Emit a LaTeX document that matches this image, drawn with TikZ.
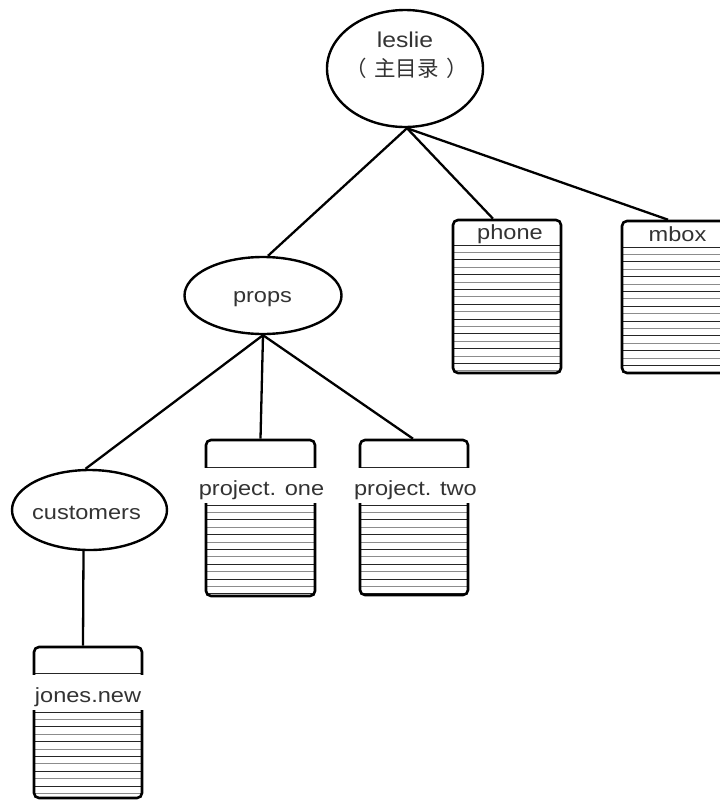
\documentclass[tikz,border=0pt]{standalone}
\usepackage{fontspec}
\setmainfont{Liberation Sans}
\newfontfamily\labfont[FakeStretch=1.15]{Liberation Sans}
\newfontfamily\cjk{Noto Sans CJK SC}
\usetikzlibrary{shapes.geometric}

% ruled lines inside a file box: left, right, first y, bottom y
\newcommand\filerules[4]{%
  \begin{scope}
    \clip (#1,#3-1) rectangle (#2,#4);
    \foreach \k in {0,...,22} {
      \pgfmathsetmacro\yy{#3+7.4*\k}
      \pgfmathparse{int(mod(\k,2))}
      \ifnum\pgfmathresult=0
        \draw[ruleA] (#1,\yy) -- (#2,\yy);
      \else
        \draw[ruleB] (#1,\yy) -- (#2,\yy);
      \fi
    }
  \end{scope}}

% full-width character cells
\newcommand\cjkcell[1]{\makebox[21.7pt][c]{#1}}
\newcommand\cjkopen[1]{\makebox[21.7pt][c]{\kern-14pt#1}}
\newcommand\cjkclose[1]{\makebox[21.7pt][c]{#1\kern-14pt}}

\tikzset{
  edge/.style={line width=2.3pt},
  dirnode/.style={ellipse, draw, line width=2.4pt, inner sep=0pt},
  filebox/.style={draw, line width=2.6pt, rounded corners=5pt, inner sep=0pt},
  ruleA/.style={line width=0.7pt, black!85},
  ruleB/.style={line width=0.7pt, black!45},
  lab/.style={font=\labfont\fontsize{20.5}{24}\selectfont, text=black!80, inner sep=0pt, anchor=base},
  cjklab/.style={font=\cjk\fontsize{21.5}{25}\selectfont, text=black!80, inner sep=0pt, anchor=base},
  band/.style={font=\labfont\fontsize{20.5}{24}\selectfont, text=black!80, fill=white,
    inner sep=0pt, minimum height=35pt, text height=24pt, text depth=5pt},
}

\begin{document}
\begin{tikzpicture}[x=1pt, y=-1pt]
  \useasboundingbox (0,0) rectangle (720,801);
  \fill[white] (0,0) rectangle (720,801);
  \clip (0,0) rectangle (720,801);

  % ruled interiors of the files
  \filerules{453}{561}{245}{373}
  \filerules{622}{730}{247}{373}
  \draw[ruleA] (206,467) -- (315,467);
  \filerules{206}{315}{505}{596}
  \draw[ruleA] (360,467) -- (468,467);
  \filerules{360}{468}{505}{595}
  \draw[ruleA] (34,673) -- (142,673);
  \filerules{34}{142}{712}{798}

  % file outlines
  \node[filebox, minimum width=108pt, minimum height=153pt] (phone) at (507,296.5) {};
  \node[filebox, minimum width=108pt, minimum height=152pt] (mbox) at (676,297) {};
  \node[filebox, minimum width=109pt, minimum height=156pt] (pone) at (260.5,518) {};
  \node[filebox, minimum width=108pt, minimum height=155pt] (ptwo) at (414,517.5) {};
  \node[filebox, minimum width=108pt, minimum height=151pt] (jones) at (88,722.5) {};

  % file names
  \node[lab] (phone name) at (510,239) {phone};
  \node[lab] (mbox name) at (677.5,241) {mbox};
  \node[band, minimum width=116pt] (pone name) at (261.5,485.5) {project. one};
  \node[band, minimum width=116pt] (ptwo name) at (415.5,485.5) {project. two};
  \node[band, minimum width=116pt] (jones name) at (88,692.5) {jones.new};

  % directories
  \node[dirnode, minimum width=156pt, minimum height=117pt] (leslie) at (405,68.5) {};
  \node[dirnode, minimum width=157pt, minimum height=77pt] (props) at (263,295.5) {};
  \node[dirnode, minimum width=155pt, minimum height=80pt] (customers) at (89.5,510) {};

  \node[lab, font=\labfont\fontsize{21.5}{25}\selectfont] (leslie name) at (405,47) {leslie};
  \node[cjklab] (leslie note) at (406.5,76.5)
    {\cjkopen{（}\cjkcell{主}\cjkcell{目}\cjkcell{录}\cjkclose{）}};
  \node[lab] (props name) at (262.5,302) {props};
  \node[lab] (customers name) at (86.5,519) {customers};

  % tree edges
  \draw[edge] ([xshift=2pt]leslie.south) -- ([xshift=-14pt]phone.north);
  \draw[edge] ([xshift=2pt]leslie.south) -- ([xshift=-8pt]mbox.north);
  \draw[edge] ([xshift=2pt]leslie.south) -- ([xshift=5pt]props.north);
  \draw[edge] (props.south) -- ([xshift=-4pt]customers.north);
  \draw[edge] (props.south) -- (pone.north);
  \draw[edge] (props.south) -- ([xshift=-1pt]ptwo.north);
  \draw[edge] ([xshift=-6pt]customers.south) -- ([xshift=-5pt]jones.north);
\end{tikzpicture}
\end{document}
